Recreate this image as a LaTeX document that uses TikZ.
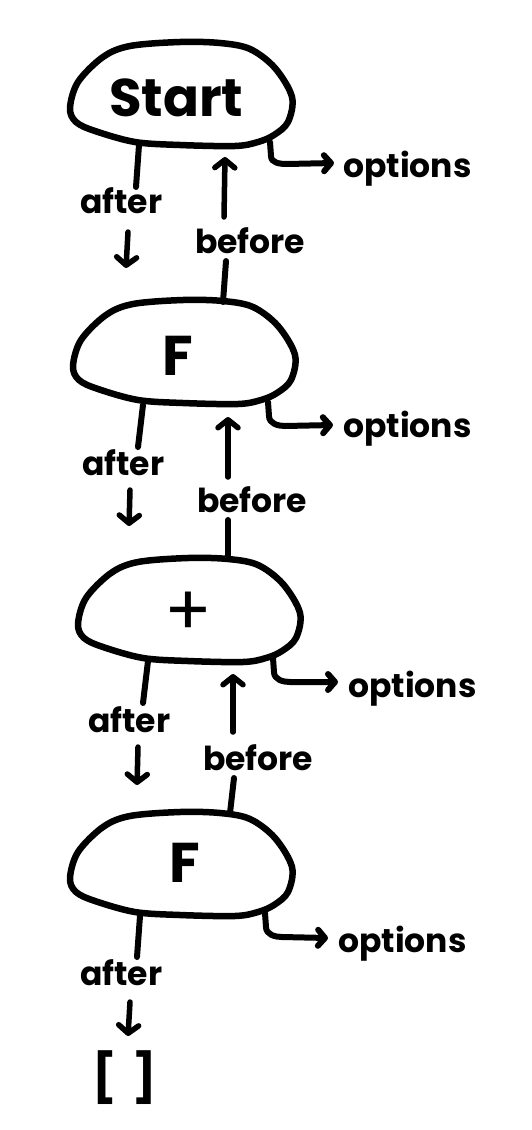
\documentclass[tikz,border=0pt]{standalone}
\usepackage{fontspec}
\setmainfont{Poppins}
\usetikzlibrary{arrows.meta}
\newcommand\blobpath{plot[smooth cycle, tension=0.55] coordinates {(0,66) (8,40) (33,15) (60,4) (110,0) (150,1) (180,7) (205,26) (222,55) (218,80) (204,93) (188,100) (165,104) (110,103) (65,100) (25,89) (6,80)}}
\begin{document}
\begin{tikzpicture}[x=1pt,y=-1pt, line cap=round, line join=round,
  ln/.style={line width=6pt},
  dn/.style={line width=5.5pt,-{Straight Barb[length=8pt,width=20pt,round]}},
  op/.style={line width=6pt,-{Straight Barb[length=7pt,width=16pt,round]}},
  lbl/.style={font=\fontsize{33}{36}\selectfont\bfseries, inner sep=0pt, anchor=base west},
  big/.style={font=\fontsize{56}{60}\selectfont\bfseries, inner sep=0pt, anchor=base west},
  blob/.style={line width=6.5pt}]
\useasboundingbox[fill=white] (0,0) rectangle (532,1130);

% ---------- blob 1
\begin{scope}[shift={(70,42)}]\draw[blob] \blobpath;\end{scope}
\node[big, font=\fontsize{53}{56}\selectfont\bfseries] (n1) at (109,116) {Start};
\coordinate (b1a) at (139,145); \coordinate (b1ae) at (136,187);
\node[lbl] (a1) at (80,213) {after};
\coordinate (a1s) at (128,232); \coordinate (a1t) at (126,268);
\coordinate (b1o) at (270,142); \coordinate (b1ot) at (334,163);
\node[lbl] (o1) at (343,177) {options};
\draw[ln] (b1a) -- (b1ae);
\draw[dn] (a1s) -- (a1t);
\draw[op] (b1o) -- ++(1,14) to[out=-90,in=180] ++(16,8) -- (b1ot);

% ---------- blob 2
\begin{scope}[shift={(73,300)}]\draw[blob] \blobpath;\end{scope}
\node[big] (n2) at (162,375) {F};
\coordinate (b2t) at (223,302); \coordinate (c1s) at (226,261);
\node[lbl] (e1) at (195,253) {before};
\coordinate (c1a) at (224,217); \coordinate (c1t) at (225,157);
\draw[ln] (b2t) -- (c1s);
\draw[dn] (c1a) -- (c1t);
\coordinate (b2a) at (143,405); \coordinate (b2ae) at (138,447);
\node[lbl] (a2) at (82,475) {after};
\coordinate (a2s) at (130,490); \coordinate (a2t) at (129,526);
\coordinate (b2o) at (268,402); \coordinate (b2ot) at (333,425);
\node[lbl] (o2) at (343,437) {options};
\draw[ln] (b2a) -- (b2ae);
\draw[dn] (a2s) -- (a2t);
\draw[op] (b2o) -- ++(1,14) to[out=-90,in=180] ++(16,10) -- (b2ot);

% ---------- blob 3
\begin{scope}[shift={(78,558)}]\draw[blob] \blobpath;\end{scope}
\node[font=\fontsize{70}{74}\selectfont, inner sep=0pt] (n3) at (188,614) {+};
\coordinate (b3t) at (228,558); \coordinate (c2s) at (228,520);
\node[lbl] (e2) at (197,512) {before};
\coordinate (c2a) at (228,477); \coordinate (c2t) at (228,417);
\draw[ln] (b3t) -- (c2s);
\draw[dn] (c2a) -- (c2t);
\coordinate (b3a) at (148,661); \coordinate (b3ae) at (143,703);
\node[lbl] (a3) at (88,732) {after};
\coordinate (a3s) at (138,747); \coordinate (a3t) at (137,785);
\coordinate (b3o) at (273,658); \coordinate (b3ot) at (338,682);
\node[lbl] (o3) at (348,697) {options};
\draw[ln] (b3a) -- (b3ae);
\draw[dn] (a3s) -- (a3t);
\draw[op] (b3o) -- ++(1,14) to[out=-90,in=180] ++(16,10) -- (b3ot);

% ---------- blob 4
\begin{scope}[shift={(70,812)}]\draw[blob] \blobpath;\end{scope}
\node[big] (n4) at (169,882) {F};
\coordinate (b4t) at (230,813); \coordinate (c3s) at (234,778);
\node[lbl] (e3) at (203,770) {before};
\coordinate (c3a) at (233,732); \coordinate (c3t) at (233,674);
\draw[ln] (b4t) -- (c3s);
\draw[dn] (c3a) -- (c3t);
\coordinate (b4a) at (140,916); \coordinate (b4ae) at (137,957);
\node[lbl] (a4) at (80,985) {after};
\coordinate (a4s) at (130,1002); \coordinate (a4t) at (128,1036);
\coordinate (b4o) at (265,913); \coordinate (b4ot) at (328,938);
\node[lbl] (o4) at (338,952) {options};
\draw[ln] (b4a) -- (b4ae);
\draw[dn] (a4s) -- (a4t);
\draw[op] (b4o) -- ++(1,14) to[out=-90,in=180] ++(16,10) -- (b4ot);
\node[font=\fontsize{48}{52}\selectfont\bfseries, inner sep=0pt, anchor=base west] (nil) at (92,1094) {[\,\,]};
\end{tikzpicture}
\end{document}
